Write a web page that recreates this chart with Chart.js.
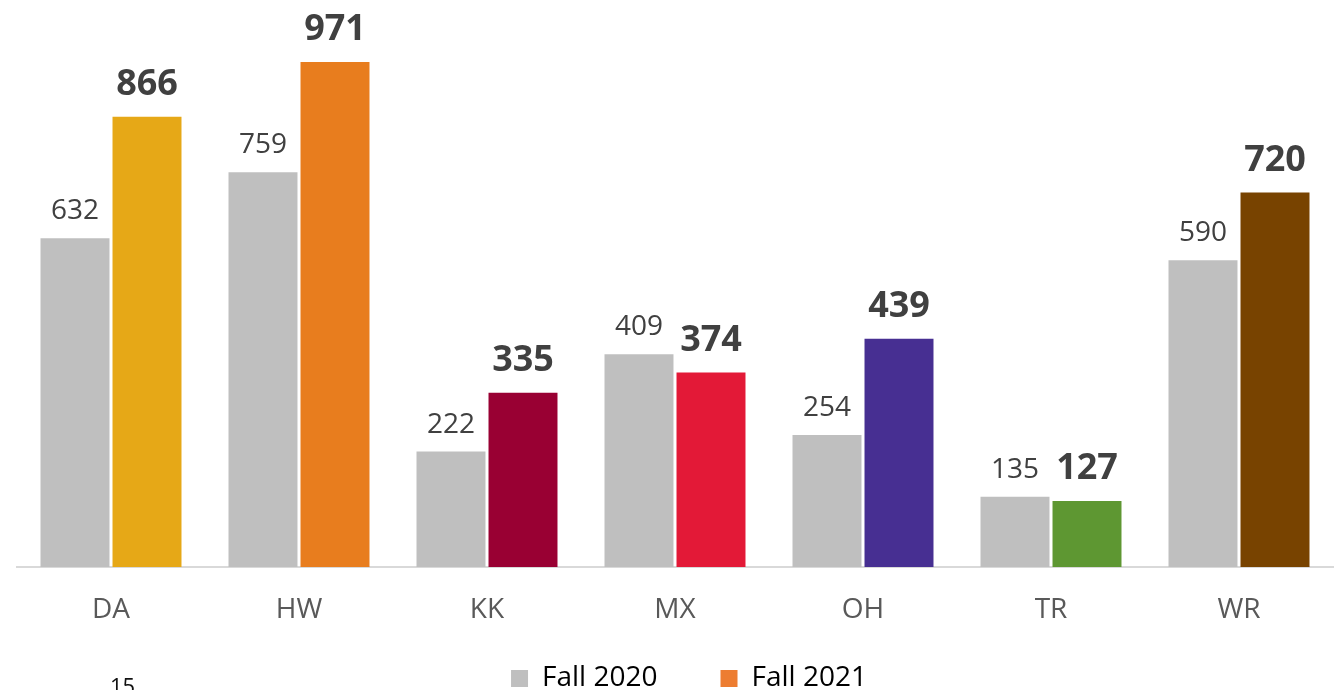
<!DOCTYPE html>
<html><head><meta charset="utf-8">
<script src="https://cdn.jsdelivr.net/npm/chart.js@4"></script>
<style>html,body{margin:0;padding:0;background:#fff;overflow:hidden}#wrap{position:relative;width:1342px;height:690px;}</style>
</head><body><div id="wrap"><canvas id="c" width="1342" height="690"></canvas></div>
<script>
const categories = ['DA','HW','KK','MX','OH','TR','WR'];
const fall2020 = [632,759,222,409,254,135,590];
const fall2021 = [866,971,335,374,439,127,720];
const fall2021Colors = ['#E6A817','#E87D1E','#990033','#E31937','#472F92','#5E9732','#784300'];
const seriesNames = ['Fall 2020','Fall 2021'];
const legendColors = ['#BFBFBF','#ED7D31'];
const pageNumber = '15';

const FONT = '"Open Sans", "DejaVu Sans", sans-serif';

const labelPlugin = {
  id: 'valueLabels',
  afterLayout(chart) {
    // let the x tick labels extend into the legend band without being clipped
    chart.scales.x.bottom = chart.height;
    // nudge legend to match the reference's horizontal placement
    chart.legend.left += 14;
    chart.legend.right += 14;
  },
  afterDatasetsDraw(chart) {
    const ctx = chart.ctx;
    chart.data.datasets.forEach((ds, i) => {
      const meta = chart.getDatasetMeta(i);
      meta.data.forEach((bar, j) => {
        ctx.save();
        ctx.fillStyle = '#404040';
        ctx.textAlign = 'center';
        ctx.textBaseline = 'alphabetic';
        if (i === 0) {
          ctx.font = '28px ' + FONT;
          ctx.fillText(String(ds.data[j]), bar.x, bar.y - 19);
        } else {
          ctx.font = 'bold 36px ' + FONT;
          ctx.fillText(String(ds.data[j]), bar.x, bar.y - 22);
        }
        ctx.restore();
      });
    });
    ctx.save();
    ctx.font = '22px ' + FONT;
    ctx.fillStyle = '#111111';
    ctx.textAlign = 'left';
    ctx.textBaseline = 'alphabetic';
    ctx.fillText(pageNumber, 110, 694);
    ctx.restore();
  }
};

new Chart(document.getElementById('c'), {
  type: 'bar',
  data: {
    labels: categories,
    datasets: [
      { label: seriesNames[0], data: fall2020, backgroundColor: legendColors[0], categoryPercentage: 0.766, barPercentage: 0.958 },
      { label: seriesNames[1], data: fall2021, backgroundColor: fall2021Colors, categoryPercentage: 0.766, barPercentage: 0.958 }
    ]
  },
  options: {
    responsive: false,
    animation: false,
    layout: { padding: { top: 47, left: 17, right: 9, bottom: -12.5 } },
    scales: {
      x: {
        grid: { display: false, drawTicks: false },
        border: { display: true, color: '#D9D9D9', width: 2 },
        ticks: { color: '#595959', font: { family: FONT, size: 28 }, padding: 26 },
        afterFit(s) { s.height = 34.5; }
      },
      y: { display: false, min: 0, max: 1000 }
    },
    plugins: {
      tooltip: { enabled: false },
      legend: {
        position: 'bottom',
        labels: {
          color: '#595959',
          font: { family: FONT, size: 28 },
          boxWidth: 17,
          boxHeight: 17,
          padding: 63,
          generateLabels() {
            return seriesNames.map((n, i) => ({ text: n, fillStyle: legendColors[i], strokeStyle: legendColors[i], lineWidth: 0, hidden: false, datasetIndex: i }));
          }
        }
      }
    }
  },
  plugins: [labelPlugin]
});
</script>
</body></html>
